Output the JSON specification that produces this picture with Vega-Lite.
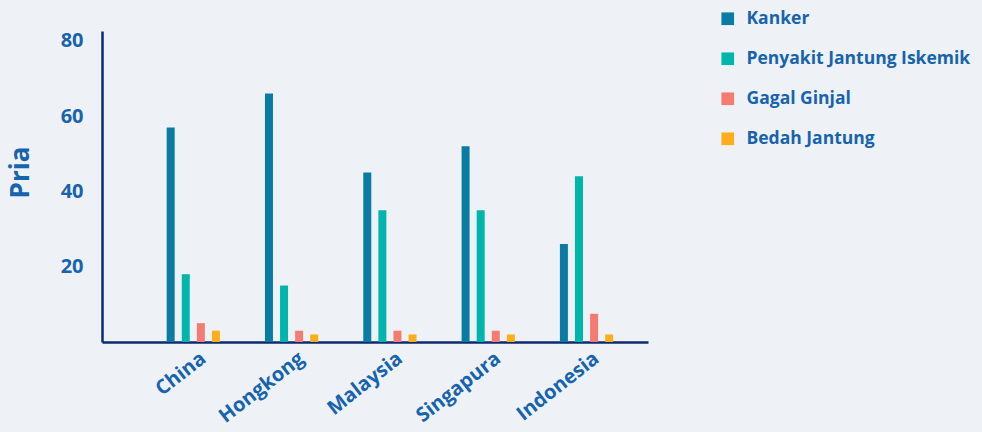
{
  "$schema": "https://vega.github.io/schema/vega-lite/v6.json",
  "autosize": {"type": "none"},
  "padding": {"left": 102, "top": 31, "right": 334, "bottom": 90},
  "width": 546,
  "height": 311,
  "background": "#eef2f6",
  "config": {
    "view": {"stroke": null},
    "font": "Open Sans",
    "axis": {"labelFont": "Open Sans", "titleFont": "Open Sans", "labelColor": "#1763ad", "titleColor": "#1763ad", "labelFontWeight": "bold", "titleFontWeight": "bold"},
    "legend": {"labelFont": "Open Sans"}
  },
  "data": {
    "values": [
      {"negara": "China", "penyebab": "Kanker", "nilai": 57},
      {"negara": "China", "penyebab": "Penyakit Jantung Iskemik", "nilai": 18},
      {"negara": "China", "penyebab": "Gagal Ginjal", "nilai": 5},
      {"negara": "China", "penyebab": "Bedah Jantung", "nilai": 3},
      {"negara": "Hongkong", "penyebab": "Kanker", "nilai": 66},
      {"negara": "Hongkong", "penyebab": "Penyakit Jantung Iskemik", "nilai": 15},
      {"negara": "Hongkong", "penyebab": "Gagal Ginjal", "nilai": 3},
      {"negara": "Hongkong", "penyebab": "Bedah Jantung", "nilai": 2},
      {"negara": "Malaysia", "penyebab": "Kanker", "nilai": 45},
      {"negara": "Malaysia", "penyebab": "Penyakit Jantung Iskemik", "nilai": 35},
      {"negara": "Malaysia", "penyebab": "Gagal Ginjal", "nilai": 3},
      {"negara": "Malaysia", "penyebab": "Bedah Jantung", "nilai": 2},
      {"negara": "Singapura", "penyebab": "Kanker", "nilai": 52},
      {"negara": "Singapura", "penyebab": "Penyakit Jantung Iskemik", "nilai": 35},
      {"negara": "Singapura", "penyebab": "Gagal Ginjal", "nilai": 3},
      {"negara": "Singapura", "penyebab": "Bedah Jantung", "nilai": 2},
      {"negara": "Indonesia", "penyebab": "Kanker", "nilai": 26},
      {"negara": "Indonesia", "penyebab": "Penyakit Jantung Iskemik", "nilai": 44},
      {"negara": "Indonesia", "penyebab": "Gagal Ginjal", "nilai": 7.5},
      {"negara": "Indonesia", "penyebab": "Bedah Jantung", "nilai": 2}
    ]
  },
  "mark": {"type": "bar", "cornerRadius": 0},
  "encoding": {
    "x": {
      "field": "negara", "type": "nominal",
      "sort": ["China", "Hongkong", "Malaysia", "Singapura", "Indonesia"],
      "scale": {"paddingInner": 0.4, "paddingOuter": 0.477, "align": 0.659},
      "axis": {"title": null, "labelAngle": -38, "labelAlign": "right", "labelBaseline": "top", "labelFontSize": 20, "labelPadding": 6, "labelOffset": 4, "ticks": false, "domainColor": "#0d2a6e", "domainWidth": 2.5}
    },
    "xOffset": {
      "field": "penyebab", "type": "nominal",
      "sort": ["Kanker", "Penyakit Jantung Iskemik", "Gagal Ginjal", "Bedah Jantung"],
      "scale": {"paddingInner": 0.47, "paddingOuter": 0.19}
    },
    "y": {
      "field": "nilai", "type": "quantitative",
      "scale": {"domain": [0, 82.6], "nice": false, "zero": true},
      "axis": {"title": "Pria", "values": [20, 40, 60, 80], "grid": false, "ticks": false, "labelPadding": 19, "labelFontSize": 20, "titleFontSize": 26, "titleAngle": -90, "titleX": -82, "titleY": 141, "titleBaseline": "middle", "titleAlign": "center", "domainColor": "#0d2a6e", "domainWidth": 2.5}
    },
    "color": {
      "field": "penyebab", "type": "nominal",
      "scale": {"domain": ["Kanker", "Penyakit Jantung Iskemik", "Gagal Ginjal", "Bedah Jantung"], "range": ["#0a7ba3", "#00b5ab", "#f47b72", "#fbad1b"]},
      "legend": {"title": null, "orient": "none", "legendX": 617, "legendY": -21, "symbolType": "square", "symbolSize": 160, "symbolStrokeWidth": 0, "labelFontSize": 17.5, "labelFontWeight": "bold", "labelColor": "#1763ad", "labelOffset": 10, "labelLimit": 0, "rowPadding": 21, "padding": 0}
    }
  }
}
